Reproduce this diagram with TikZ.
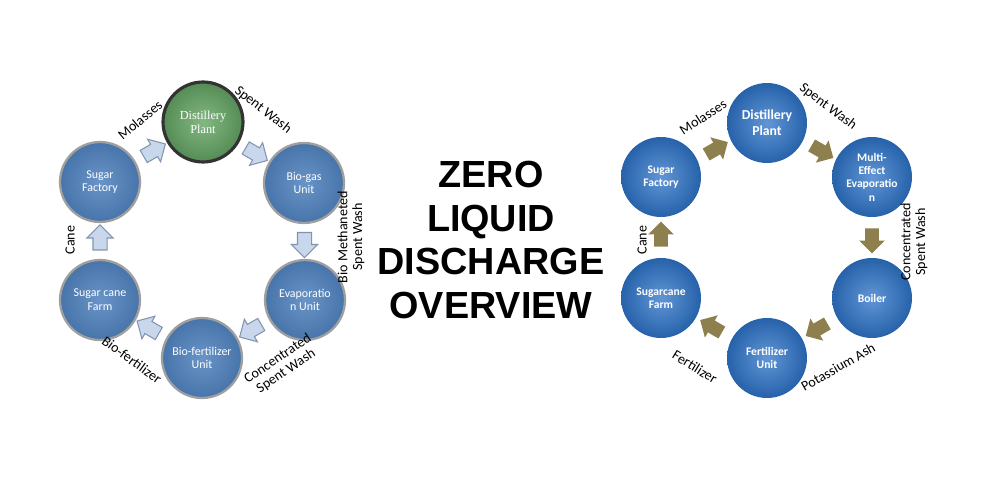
\documentclass[tikz,border=0pt]{standalone}
\usepackage{fontspec}
\setmainfont{Carlito}
\newfontfamily\titlefont{Liberation Sans}
\newfontfamily\plantfont{Liberation Serif}
\usetikzlibrary{shapes.arrows,calc}
\definecolor{oldblue}{RGB}{79,129,189}
\definecolor{newblue}{RGB}{45,115,200}
\definecolor{plantgreen}{RGB}{100,165,100}
\definecolor{arrowpale}{RGB}{200,215,235}
\definecolor{arrowedge}{RGB}{130,148,175}
\definecolor{arrowolive}{RGB}{141,128,78}
\begin{document}
\begin{tikzpicture}[x=0.02cm,y=-0.02cm,
    ball/.style={circle, minimum size=1.6cm, inner sep=0pt, align=center, text=white},
    oldball/.style={ball, draw=gray!75, line width=1.3pt, inner color=oldblue!85!white, outer color=oldblue!90!black, font=\fontsize{6.8}{7.8}\selectfont},
    greenball/.style={ball, draw=black!80, line width=1.8pt, inner color=plantgreen!80!white, outer color=plantgreen!85!black, font=\plantfont\fontsize{7}{8}\selectfont},
    newball/.style={ball, inner color=newblue!75!white, outer color=newblue!85!black, font=\bfseries\fontsize{6.6}{7.6}\selectfont},
    blockarrow/.style={single arrow, minimum height=0.5cm, inner xsep=0pt, inner ysep=0.13cm, single arrow head extend=0.12cm},
    palearrow/.style={blockarrow, fill=arrowpale, draw=arrowedge, line width=0.6pt},
    olivearrow/.style={blockarrow, fill=arrowolive},
    flowlab/.style={font=\fontsize{8}{8.4}\selectfont, align=center}]
  \useasboundingbox (0,0) rectangle (990,486);
  % Left cycle
  \node[oldball] (sf) at (100,182) {Sugar\\Factory};
  \node[greenball] (dp) at (203,122) {Distillery\\Plant};
  \node[oldball] (bg) at (304,183) {Bio-gas\\Unit};
  \node[oldball] (ev) at (305,300) {Evaporatio\\n Unit};
  \node[oldball] (bf) at (202,358) {Bio-fertilizer\\Unit};
  \node[oldball] (fm) at (100,300) {Sugar cane\\Farm};
  \foreach \a/\b/\ang in {sf/dp/30, dp/bg/-30, bg/ev/-90, ev/bf/-150, bf/fm/150, fm/sf/90} {
    \node[palearrow, rotate=\ang] (arr-\a) at ($(\a)!0.5!(\b)$) {};
  }
  % Left labels
  \node[flowlab, rotate=40] (lab-mol) at (140,120) {Molasses};
  \node[flowlab, rotate=-38] (lab-sw) at (263,110) {Spent Wash};
  \node[flowlab, rotate=90] (lab-bm) at (351,237) {Bio Methaneted\\Spent Wash};
  \node[flowlab, rotate=34] (lab-csw) at (282,365) {Concentrated\\Spent Wash};
  \node[flowlab, rotate=-36] (lab-bfz) at (132,360) {Bio-fertilizer};
  \node[flowlab, rotate=90] (lab-cane) at (70,240) {Cane};
  % Title
  \node[font=\titlefont\bfseries\fontsize{21.5}{25}\selectfont, align=center] (title) at (491,240)
    {ZERO\\LIQUID\\DISCHARGE\\OVERVIEW};
  % Right cycle
  \node[newball] (rsf) at (661,177) {Sugar\\Factory};
  \node[newball, font=\bfseries\fontsize{7.8}{9}\selectfont] (rdp) at (767,123) {Distillery\\Plant};
  \node[newball] (rme) at (872,177) {Multi-\\Effect\\Evaporatio\\n};
  \node[newball] (rbo) at (872,298) {Boiler};
  \node[newball] (rfu) at (767,358) {Fertilizer\\Unit};
  \node[newball] (rfm) at (661,298) {Sugarcane\\Farm};
  \foreach \a/\b/\ang in {rsf/rdp/30, rdp/rme/-30, rme/rbo/-90, rbo/rfu/-150, rfu/rfm/150, rfm/rsf/90} {
    \node[olivearrow, rotate=\ang] (arr-\a) at ($(\a)!0.5!(\b)$) {};
  }
  % Right labels
  \node[flowlab, rotate=33] (rlab-mol) at (703,117) {Molasses};
  \node[flowlab, rotate=-37] (rlab-sw) at (828,107) {Spent Wash};
  \node[flowlab, rotate=90] (rlab-csw) at (914,242) {Concentrated\\Spent Wash};
  \node[flowlab, rotate=30] (rlab-ash) at (838,367) {Potassium Ash};
  \node[flowlab, rotate=-32] (rlab-fz) at (695,367) {Fertilizer};
  \node[flowlab, rotate=90] (rlab-cane) at (642,240) {Cane};
\end{tikzpicture}
\end{document}
